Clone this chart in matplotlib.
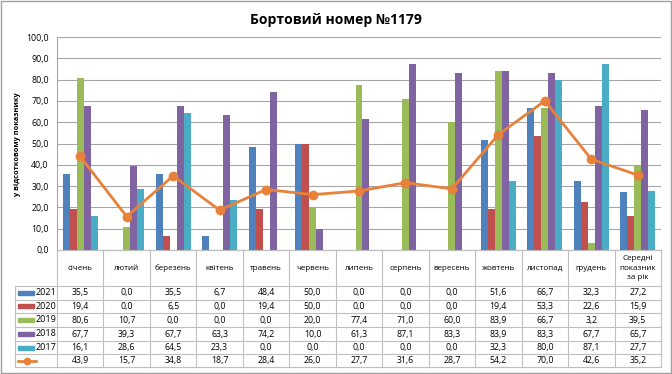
import matplotlib
matplotlib.use("Agg")
import matplotlib.pyplot as plt
import numpy as np
from matplotlib.patches import Rectangle
from matplotlib.lines import Line2D

plt.rcParams['font.family'] = ['Open Sans', 'DejaVu Sans']

categories = ['січень', 'лютий', 'березень', 'квітень', 'травень', 'червень', 'липень',
              'серпень', 'вересень', 'жовтень', 'листопад', 'грудень',
              'Середні\nпоказник\nза рік']
years = ['2021', '2020', '2019', '2018', '2017']
v2021 = [35.5, 0.0, 35.5, 6.7, 48.4, 50.0, 0.0, 0.0, 0.0, 51.6, 66.7, 32.3, 27.2]
v2020 = [19.4, 0.0, 6.5, 0.0, 19.4, 50.0, 0.0, 0.0, 0.0, 19.4, 53.3, 22.6, 15.9]
v2019 = [80.6, 10.7, 0.0, 0.0, 0.0, 20.0, 77.4, 71.0, 60.0, 83.9, 66.7, 3.2, 39.5]
v2018 = [67.7, 39.3, 67.7, 63.3, 74.2, 10.0, 61.3, 87.1, 83.3, 83.9, 83.3, 67.7, 65.7]
v2017 = [16.1, 28.6, 64.5, 23.3, 0.0, 0.0, 0.0, 0.0, 0.0, 32.3, 80.0, 87.1, 27.7]
avg = [43.9, 15.7, 34.8, 18.7, 28.4, 26.0, 27.7, 31.6, 28.7, 54.2, 70.0, 42.6, 35.2]

series = [v2021, v2020, v2019, v2018, v2017]
colors = ['#4F81BD', '#C0504D', '#9BBB59', '#8064A2', '#4BACC6']
line_color = '#E8823A'


def fmt(v):
    return ('%.1f' % v).replace('.', ',')


W, H = 672, 374
fig = plt.figure(figsize=(W / 100, H / 100), dpi=100)
# область графіка в пікселях
pl, pr, pt, pb = 57, 661, 37, 250
ax = fig.add_axes([pl / W, 1 - pb / H, (pr - pl) / W, (pb - pt) / H])

n = len(categories)
x = np.arange(n)
bw = 0.15
for k, (vals, c) in enumerate(zip(series, colors)):
    ax.bar(x + (k - 2) * bw, vals, width=bw, color=c, zorder=3)
ax.plot(x, avg, color=line_color, lw=2, marker='o', ms=6, zorder=4)

ax.set_xlim(-0.5, n - 0.5)
ax.set_ylim(0, 100)
yt = np.arange(0, 101, 10)
ax.set_yticks(yt)
ax.set_yticklabels([fmt(v) for v in yt], fontsize=6.3)
ax.yaxis.grid(True, color='#A6A6A6', lw=0.8, zorder=0)
ax.set_xticks([])
ax.tick_params(axis='y', length=0, pad=6)
for s in ['top', 'right']:
    ax.spines[s].set_visible(False)
for s in ['left', 'bottom']:
    ax.spines[s].set_color('#A6A6A6')
    ax.spines[s].set_linewidth(0.8)

fig.text(0.5, 1 - 20 / H, 'Бортовий номер №1179', ha='center', va='center',
         fontsize=10, fontweight='bold')
fig.text(18 / W, 1 - 144 / H, 'у відсотковому показнику', rotation=90,
         ha='center', va='center', fontsize=5.3, fontweight='bold')


# таблиця даних під графіком
tcol = '#BFBFBF'


def fy(py):
    return 1 - py / H


def fx(px):
    return px / W


cat_w = (pr - pl) / n
rows_y = [286, 299.5, 313, 327, 341, 354, 367]
fig.add_artist(Line2D([fx(pl), fx(pr)], [fy(pb), fy(pb)], color=tcol, lw=0.8))
for yy in rows_y:
    fig.add_artist(Line2D([fx(15), fx(pr)], [fy(yy), fy(yy)], color=tcol, lw=0.8))
fig.add_artist(Line2D([fx(15), fx(15)], [fy(rows_y[0]), fy(rows_y[-1])], color=tcol, lw=0.8))
for i in range(n + 1):
    xx = pl + i * cat_w
    fig.add_artist(Line2D([fx(xx), fx(xx)], [fy(pb), fy(rows_y[-1])], color=tcol, lw=0.8))

for i, cat in enumerate(categories):
    fig.text(fx(pl + (i + 0.5) * cat_w), fy(268), cat, ha='center', va='center',
             fontsize=5.8, linespacing=1.5)

all_rows = series + [avg]
for r, vals in enumerate(all_rows):
    yc = (rows_y[r] + rows_y[r + 1]) / 2
    for i, v in enumerate(vals):
        fig.text(fx(pl + (i + 0.5) * cat_w), fy(yc), fmt(v),
                 ha='center', va='center', fontsize=6.3)
    if r < 5:
        fig.add_artist(Rectangle((fx(18), fy(yc + 2)), 16 / W, 4 / H, color=colors[r]))
        fig.text(fx(36), fy(yc), years[r], ha='left', va='center', fontsize=6.5)
    else:
        fig.add_artist(Line2D([fx(18), fx(27), fx(36)], [fy(yc)] * 3, color=line_color,
                              lw=2, marker='o', ms=4.5, markevery=[1]))

# рамка
fig.add_artist(Rectangle((0.002, 0.003), 0.996, 0.994, fill=False, ec='#A0A0A0', lw=1))

fig.savefig('out.png', dpi=100)
